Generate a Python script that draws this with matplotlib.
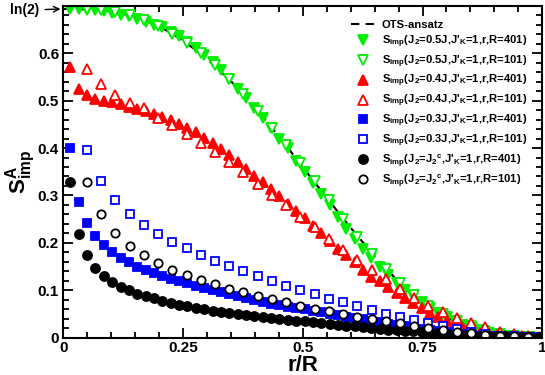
import numpy as np
import matplotlib
matplotlib.use('Agg')
import matplotlib.pyplot as plt
from matplotlib.ticker import MultipleLocator

plt.rcParams['font.family'] = ['Liberation Sans', 'DejaVu Sans']
plt.rcParams['font.weight'] = 'bold'
plt.rcParams['mathtext.fontset'] = 'custom'
plt.rcParams['mathtext.rm'] = 'Liberation Sans:bold'
plt.rcParams['mathtext.bf'] = 'Liberation Sans:bold'
plt.rcParams['mathtext.it'] = 'Liberation Sans:bold'
plt.rcParams['mathtext.default'] = 'bf'

# Site positions r for the two chain lengths.
r_401 = np.arange(6, 401, 7)
r_101 = np.arange(5, 101, 3)
x_401 = r_401 / 401
x_101 = r_101 / 101

# OTS-ansatz curve.
ots_x = [0, 0.05, 0.1, 0.15, 0.2, 0.25, 0.3, 0.35, 0.4, 0.45, 0.5,
         0.55, 0.6, 0.65, 0.7, 0.75, 0.8, 0.85, 0.9, 0.95, 1.0]
ots_y = [0.693, 0.692, 0.688, 0.677, 0.657, 0.627, 0.588, 0.541, 0.486,
         0.425, 0.360, 0.295, 0.232, 0.172, 0.118, 0.075, 0.043, 0.021,
         0.008, 0.002, 0.0]

# J2 = 0.5J
green_401 = [0.692, 0.692, 0.691, 0.690, 0.688, 0.685, 0.681, 0.678, 0.671,
             0.666, 0.660, 0.654, 0.644, 0.637, 0.623, 0.611,
             0.597, 0.581, 0.564, 0.545, 0.524, 0.506, 0.485, 0.464, 0.443,
             0.419, 0.399, 0.373, 0.349, 0.327, 0.304, 0.281, 0.255, 0.230,
             0.209, 0.188,
             0.168, 0.150, 0.132, 0.116, 0.101, 0.088, 0.075, 0.063, 0.052,
             0.043, 0.035, 0.028, 0.021, 0.016, 0.011, 0.007, 0.005, 0.003,
             0.002, 0.001, 0.0005]
green_101 = [0.692, 0.690, 0.686, 0.680, 0.670, 0.657, 0.640, 0.621, 0.600,
             0.575, 0.545, 0.513, 0.479, 0.443, 0.407, 0.368, 0.330, 0.290,
             0.250, 0.212, 0.176, 0.146, 0.116, 0.090, 0.068, 0.050, 0.036,
             0.024, 0.015, 0.008, 0.004, 0.001]

# J2 = 0.4J
red_401 = [0.571, 0.525, 0.511, 0.504, 0.500, 0.496, 0.492, 0.487, 0.483,
           0.477, 0.471, 0.465, 0.459, 0.451, 0.443, 0.434,
           0.421, 0.410, 0.398, 0.385, 0.370, 0.356, 0.342, 0.328, 0.314,
           0.299, 0.283, 0.267, 0.252, 0.236, 0.220, 0.205, 0.188, 0.174,
           0.160, 0.144, 0.129, 0.120, 0.108, 0.095, 0.085, 0.074, 0.063,
           0.053, 0.044, 0.035, 0.027, 0.020, 0.015, 0.011, 0.009, 0.007,
           0.005, 0.004, 0.003, 0.002, 0.001]
red_101 = [0.567, 0.535, 0.5125, 0.495, 0.484, 0.464, 0.449, 0.429, 0.411,
           0.391, 0.370, 0.349, 0.325, 0.302, 0.279, 0.254, 0.233, 0.209,
           0.186, 0.164, 0.143, 0.123, 0.102, 0.085, 0.067, 0.055, 0.041,
           0.031, 0.022, 0.013, 0.008, 0.003]

# J2 = 0.3J
blue_401 = [0.399, 0.287, 0.241, 0.214, 0.195, 0.180, 0.169, 0.159, 0.150,
            0.143, 0.136, 0.131, 0.125, 0.119, 0.115, 0.110, 0.106, 0.101,
            0.097, 0.093, 0.089,
            0.085, 0.080, 0.076, 0.072, 0.069, 0.066, 0.063, 0.060, 0.057,
            0.054, 0.051, 0.048, 0.045, 0.042, 0.039, 0.036, 0.033, 0.030,
            0.027, 0.024, 0.021, 0.019, 0.016, 0.014, 0.012, 0.010, 0.008,
            0.007, 0.005, 0.004, 0.003, 0.002, 0.002, 0.001, 0.001, 0.001]
blue_101 = [0.396, 0.331, 0.291, 0.261, 0.2385, 0.219, 0.203, 0.189, 0.175,
            0.163, 0.151, 0.1405, 0.130, 0.120, 0.110, 0.101, 0.092, 0.0825,
            0.075, 0.067, 0.059, 0.050, 0.044, 0.038, 0.032, 0.025, 0.019,
            0.013, 0.009, 0.005, 0.003, 0.001]

# J2 = J2^c
black_401 = [0.329, 0.218, 0.174, 0.148, 0.131, 0.118, 0.108, 0.100, 0.093,
             0.088, 0.083, 0.078, 0.073, 0.070, 0.067, 0.063, 0.060, 0.057,
             0.054, 0.052, 0.050,
             0.048, 0.046, 0.044, 0.042, 0.040, 0.038, 0.036, 0.035, 0.033,
             0.031, 0.029, 0.028, 0.026, 0.024, 0.022, 0.020, 0.019, 0.017,
             0.016, 0.015, 0.014, 0.012, 0.011, 0.010, 0.009, 0.008, 0.007,
             0.006, 0.005, 0.004, 0.004, 0.003, 0.002, 0.002, 0.001, 0.001]
black_101 = [0.329, 0.2615, 0.222, 0.194, 0.175, 0.158, 0.144, 0.132, 0.122,
             0.113, 0.104, 0.096, 0.088, 0.081, 0.075, 0.067, 0.0615, 0.057,
             0.050, 0.045, 0.040, 0.036, 0.031, 0.026, 0.021, 0.017, 0.013,
             0.010, 0.007, 0.005, 0.003, 0.001]

labels = [
    r"S$_{imp}$(J$_2$=0.5J,J'$_K$=1,r,R=401)",
    r"S$_{imp}$(J$_2$=0.5J,J'$_K$=1,r,R=101)",
    r"S$_{imp}$(J$_2$=0.4J,J'$_K$=1,r,R=401)",
    r"S$_{imp}$(J$_2$=0.4J,J'$_K$=1,r,R=101)",
    r"S$_{imp}$(J$_2$=0.3J,J'$_K$=1,r,R=401)",
    r"S$_{imp}$(J$_2$=0.3J,J'$_K$=1,r,R=101)",
    r"S$_{imp}$(J$_2$=J$_2$$^c$,J'$_K$=1,r,R=401)",
    r"S$_{imp}$(J$_2$=J$_2$$^c$,J'$_K$=1,r,R=101)",
]

fig = plt.figure(figsize=(5.45, 3.75), dpi=100)
ax = fig.add_axes([0.116, 0.099, 0.879, 0.886])

ax.plot(ots_x, ots_y, color='black', linestyle=(0, (4, 3)), lw=1.5,
        label='OTS-ansatz', zorder=1)

# (x, y, marker, colour, filled, size)
series = [
    (x_401, green_401, 'v', '#00ee00', True, 7.5),
    (x_101, green_101, 'v', '#00ee00', False, 6.5),
    (x_401, red_401, '^', '#ff0000', True, 7.5),
    (x_101, red_101, '^', '#ff0000', False, 6.5),
    (x_401, blue_401, 's', '#0000ff', True, 6.0),
    (x_101, blue_101, 's', '#0000ff', False, 5.5),
    (x_401, black_401, 'o', 'black', True, 6.5),
    (x_101, black_101, 'o', 'black', False, 6.0),
]
for (xs, ys, mk, col, filled, ms), lab in zip(series, labels):
    ax.plot(xs, ys, linestyle='none', marker=mk, ms=ms,
            markerfacecolor=col if filled else 'white',
            markeredgecolor=col, markeredgewidth=1.3, label=lab, zorder=2)

ax.set_xlim(0, 1)
ax.set_ylim(0, 0.7)
ax.xaxis.set_minor_locator(MultipleLocator(0.05))
ax.yaxis.set_minor_locator(MultipleLocator(0.02))
ax.set_xticks([0, 0.25, 0.5, 0.75, 1])
ax.set_xticklabels(['0', '0.25', '0.5', '0.75', '1'])
ax.set_yticks([0, 0.1, 0.2, 0.3, 0.4, 0.5, 0.6])
ax.set_yticklabels(['0', '0.1', '0.2', '0.3', '0.4', '0.5', '0.6'])
ax.tick_params(which='both', direction='in', top=True, right=True,
               labelsize=11, width=1.3)
ax.tick_params(which='major', length=7)
ax.tick_params(axis='x', which='major', pad=2)
ax.tick_params(axis='y', which='major', pad=3)
ax.tick_params(which='minor', length=4)
for s in ax.spines.values():
    s.set_linewidth(1.5)

ax.set_xlabel('r/R', fontsize=16, fontweight='bold', labelpad=0)
ax.set_ylabel(r'S$^A_{imp}$', fontsize=16, fontweight='bold', labelpad=0)

ax.annotate('ln(2)', xy=(0, np.log(2)), xytext=(-17, -1),
            textcoords='offset points', ha='right', va='center',
            fontsize=10, fontweight='bold', annotation_clip=False,
            arrowprops=dict(arrowstyle='->', color='black', lw=1))

ax.legend(loc='upper right', bbox_to_anchor=(0.985, 0.98), frameon=False,
          fontsize=8.1, handlelength=2.0, handletextpad=0.7,
          labelspacing=0.3, borderaxespad=0.3)

fig.savefig('out.png', dpi=100)
